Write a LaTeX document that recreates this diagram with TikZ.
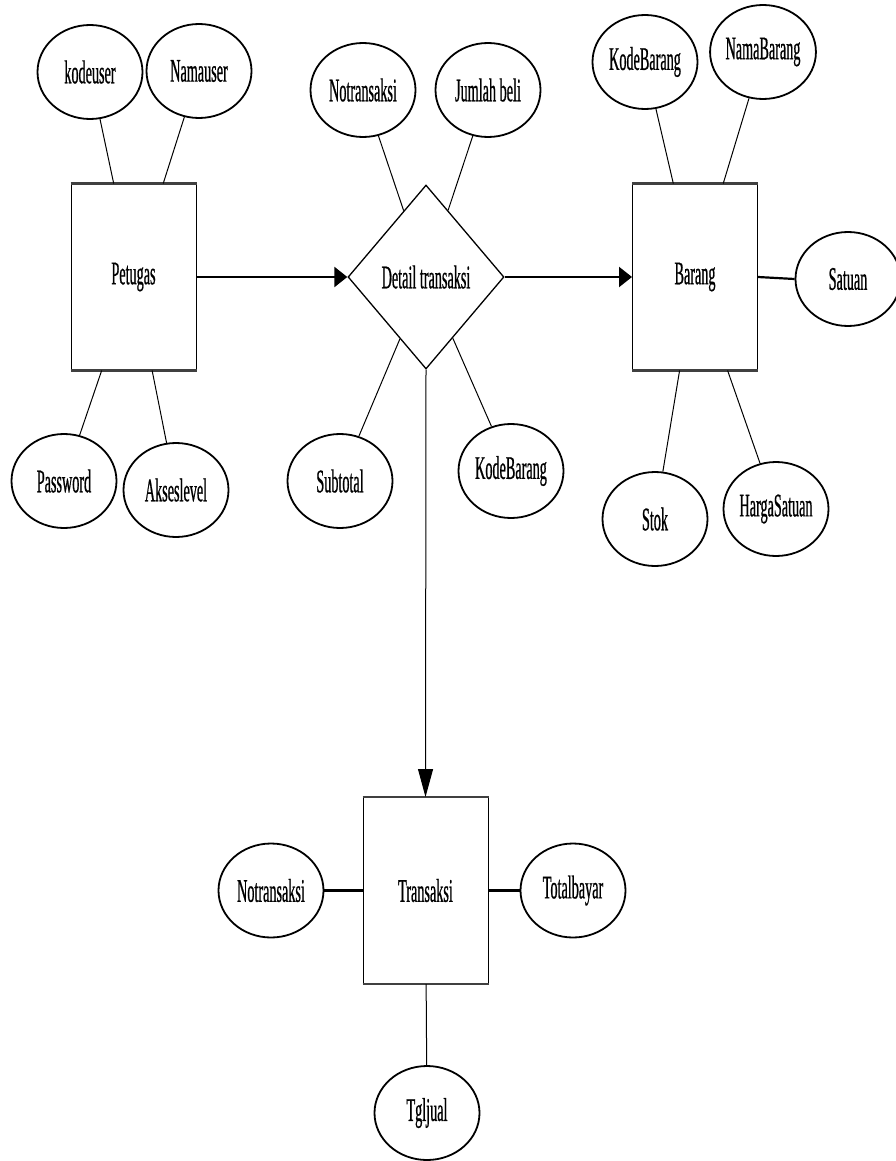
\documentclass[tikz,border=0pt]{standalone}
\usepackage{fontspec}
\setmainfont[FakeStretch=0.43, FakeBold=0.6]{Liberation Serif}
\usetikzlibrary{shapes.geometric, arrows.meta}

\begin{document}
\begin{tikzpicture}[
            x=1pt, y=-1pt,
            font=\fontsize{33}{37}\selectfont,
            entity/.style={draw, line width=1pt, minimum width=125pt, minimum height=186pt, inner sep=0pt},
            attr/.style={ellipse, draw, fill=white, line width=1.8pt, minimum width=105pt, minimum height=94pt, inner sep=0pt},
            rel/.style={diamond, draw, line width=1.3pt, minimum width=156pt, minimum height=184pt, inner sep=0pt},
            rim/.style={line width=2.6pt, draw=black!75},
            link/.style={line width=1pt},
            hlink/.style={line width=2.2pt},
            flow/.style={line width=2.2pt, -{Triangle[length=13pt, width=20pt]}},
            vflow/.style={line width=1pt, -{Triangle[length=28pt, width=15pt]}}
        ]

        \fill[white] (0,0) rectangle (896,1161);
        \useasboundingbox (0,0) rectangle (896,1161);

        % entities and relation
        \node[entity] (petugas) at (133.5,277) {Petugas};
        \node[entity] (barang) at (695,277) {Barang};
        \node[entity] (transaksi) at (425.5,890.5) {Transaksi};
        \node[rel] (detail) at (426,277) {Detail transaksi};

        % attributes
        \node[attr] (kodeuser) at (90,72) {kodeuser};
        \node[attr] (namauser) at (199,71) {Namauser};
        \node[attr] (password) at (64,481) {Password};
        \node[attr] (akseslevel) at (176,490) {Akseslevel};

        \node[attr] (notrans) at (363,90) {Notransaksi};
        \node[attr] (jumlah) at (488,90) {Jumlah beli};
        \node[attr] (subtotal) at (340,481) {Subtotal};
        \node[attr] (kodebrgdet) at (511,471) {KodeBarang};

        \node[attr] (kodebrg) at (645,62) {KodeBarang};
        \node[attr] (namabrg) at (763,52) {NamaBarang};
        \node[attr] (satuan) at (848,279) {Satuan};
        \node[attr] (stok) at (655,519) {Stok};
        \node[attr] (harga) at (776,509) {HargaSatuan};

        \node[attr] (notransjual) at (271,890.5) {Notransaksi};
        \node[attr] (totalbayar) at (573,890.5) {Totalbayar};
        \node[attr] (tgljual) at (427,1113) {Tgljual};

        \foreach \e in {petugas, barang, transaksi}
            \draw[rim] (\e.north west) -- (\e.north east) (\e.south west) -- (\e.south east);

        \foreach \a/\e in {kodeuser/petugas, namauser/petugas, password/petugas, akseslevel/petugas,
                           notrans/detail, jumlah/detail, subtotal/detail, kodebrgdet/detail,
                           kodebrg/barang, namabrg/barang, stok/barang, harga/barang, tgljual/transaksi}
            \draw[link] (\a) -- (\e);

        \draw[hlink] (barang.east) -- (satuan.west);
        \draw[hlink] (notransjual.east) -- (transaksi.west);
        \draw[hlink] (transaksi.east) -- (totalbayar.west);

        \draw[flow] (petugas.east) -- (detail.west);
        \draw[flow] (detail.east) -- (barang.west);
        \draw[vflow] (detail.south) -- (transaksi.north);
    \end{tikzpicture}
\end{document}
